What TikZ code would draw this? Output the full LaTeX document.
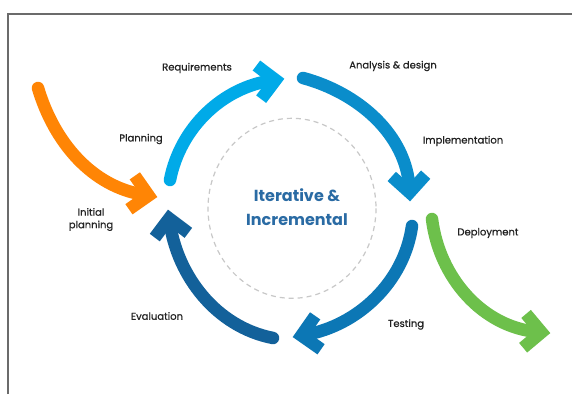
\documentclass[tikz,border=0pt]{standalone}
\usepackage{fontspec}
\setmainfont{Poppins}
\newfontfamily\lblfont{Poppins}[FakeBold=0.6]
\usetikzlibrary{calc}
\definecolor{cOrange}{HTML}{FF8505}
\definecolor{cLight}{HTML}{00AAE8}
\definecolor{cMid}{HTML}{0A8DCB}
\definecolor{cTest}{HTML}{0C77B5}
\definecolor{cDark}{HTML}{13619A}
\definecolor{cGreen}{HTML}{6DC04B}
\definecolor{cTitle}{HTML}{2A6BA4}
\definecolor{cText}{HTML}{222222}
\definecolor{cFrame}{HTML}{6B6B6B}
\definecolor{cDash}{HTML}{C8C8C8}
\tikzset{
  shaft/.style={line width=12.5pt, line cap=round, shorten >=4pt},
  chevron/.style={line width=12.5pt, line cap=butt, line join=miter},
  lbl/.style={text=cText, font=\lblfont\fontsize{10}{11.5}\selectfont, inner sep=0pt, align=center},
  title/.style={text=cTitle, font=\fontsize{16}{24}\selectfont\bfseries, inner sep=0pt, align=center},
}
\newcommand{\mychev}[3]{% vertex name, angle, colour
  \draw[chevron, #3] ($(#1)+(#2+135:24)$) -- (#1) -- ($(#1)+(#2-135:24)$);}
\begin{document}
\begin{tikzpicture}[x=1pt, y=-1pt]
\useasboundingbox (0,0) rectangle (572,394);
\fill[white] (0,0) rectangle (572,394);
\draw[cFrame, line width=1.3pt] (8,394) -- (8,14) -- (572,14);
% dashed ellipse
\draw[cDash, line width=1.2pt, dash pattern=on 5pt off 4pt] (292,208.3) ellipse [x radius=84, y radius=90];
\node[title] (ctr) at (297,207.5) {Iterative \&\\Incremental};
% coordinates
\coordinate (s1) at (38,88);    \coordinate (e1) at (148.6,195.5);
\coordinate (s2) at (170,180);  \coordinate (e2) at (275.6,80);
\coordinate (s3) at (303,78);   \coordinate (e3) at (409.6,192.5);
\coordinate (s4) at (412,226);  \coordinate (e4) at (301.4,335.5);
\coordinate (s5) at (273,338);  \coordinate (e5) at (169.2,218.4);
\coordinate (s6) at (432,219);  \coordinate (e6) at (541.5,332.3);
% arrows
\draw[shaft, cOrange] (s1) .. controls (54,142) and (92,187) .. (e1);
\mychev{e1}{10}{cOrange}
\draw[shaft, cLight] (s2) .. controls (180.2,127.6) and (222.7,87.4) .. (e2);
\mychev{e2}{-8}{cLight}
\draw[shaft, cMid] (s3) .. controls (358.6,92.9) and (406.6,135) .. (e3);
\mychev{e3}{87}{cMid}
\draw[shaft, cTest] (s4) .. controls (404.1,282.4) and (357.5,325.6) .. (e4);
\mychev{e4}{170}{cTest}
\draw[shaft, cDark] (s5) .. controls (216.1,326.9) and (177.3,275.8) .. (e5);
\mychev{e5}{262}{cDark}
\draw[shaft, cGreen] (s6) .. controls (439.2,277.7) and (482.6,327.1) .. (e6);
\mychev{e6}{5}{cGreen}
% labels
\node[lbl] (req) at (197,68) {Requirements};
\node[lbl] (plan) at (141,139) {Planning};
\node[lbl] (ana) at (393,66) {Analysis \& design};
\node[lbl] (impl) at (463,141) {Implementation};
\node[lbl] (init) at (91,219.5) {Initial\\[1pt]planning};
\node[lbl] (eval) at (157,316) {Evaluation};
\node[lbl] (test) at (406,324.5) {Testing};
\node[lbl] (dep) at (488,233) {Deployment};
\end{tikzpicture}
\end{document}
